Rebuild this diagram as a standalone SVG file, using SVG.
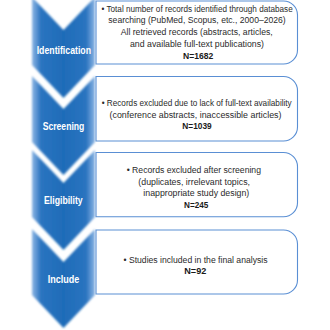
<svg xmlns="http://www.w3.org/2000/svg" width="330" height="330" viewBox="0 0 330 330">
<defs>
<linearGradient id="chevGrad" x1="0" y1="0" x2="1" y2="0">
<stop offset="0" stop-color="#8db6e4"/>
<stop offset="0.14" stop-color="#2a74c0"/>
<stop offset="0.5" stop-color="#1f6cb8"/>
<stop offset="0.86" stop-color="#2a74c0"/>
<stop offset="1" stop-color="#8db6e4"/>
</linearGradient>
<filter id="soft" x="-10%" y="-10%" width="120%" height="120%">
<feGaussianBlur stdDeviation="1.1"/>
</filter>
</defs>
<style>
.chev{fill:url(#chevGrad);filter:url(#soft);}
.box{fill:#ffffff;stroke:#5a8fd4;stroke-width:1.1;}
.t{font-family:"Liberation Sans",Arial,sans-serif;font-size:9.2px;fill:#2a2a2a;}
.n{font-family:"Liberation Sans",Arial,sans-serif;font-size:9.2px;font-weight:bold;fill:#1a1a1a;}
.lab{font-family:"Liberation Sans",Arial,sans-serif;font-size:10.8px;font-weight:bold;fill:#ffffff;}
</style>
<rect width="330" height="330" fill="#ffffff"/>
<g id="connectors"></g>

<g id="identification">
<path class="box" d="M96,1 H283.5 A14,14 0 0 1 297.5,15 V50 A14,14 0 0 1 283.5,64 H96 Z"/>
<path class="chev" d="M32,-3 L63.5,30 L95,-3 V65 L63.5,98 L32,65 Z"/>
<text class="lab" x="36.7" y="54" textLength="54.3" lengthAdjust="spacingAndGlyphs">Identification</text>
<text class="t" x="101.5" y="11.5" textLength="191.2" lengthAdjust="spacingAndGlyphs">• Total number of records identified through database</text>
<text class="t" x="108.3" y="23.3" textLength="177.4" lengthAdjust="spacingAndGlyphs">searching (PubMed, Scopus, etc., 2000–2026)</text>
<text class="t" x="120.7" y="35.2" textLength="152" lengthAdjust="spacingAndGlyphs">All retrieved records (abstracts, articles,</text>
<text class="t" x="130" y="47" textLength="134" lengthAdjust="spacingAndGlyphs">and available full-text publications)</text>
<text class="n" x="183" y="58.8" textLength="30.3" lengthAdjust="spacingAndGlyphs">N=1682</text>
</g>

<g id="screening">
<path class="box" d="M96,76.5 H283.5 A14,14 0 0 1 297.5,90.5 V127 A14,14 0 0 1 283.5,141 H96 Z"/>
<path class="chev" d="M32,76 L63.5,109 L95,76 V142 L63.5,175 L32,142 Z"/>
<text class="lab" x="42.7" y="129.5" textLength="41.6" lengthAdjust="spacingAndGlyphs">Screening</text>
<text class="t" x="101.7" y="106.2" textLength="190" lengthAdjust="spacingAndGlyphs">• Records excluded due to lack of full-text availability</text>
<text class="t" x="109.5" y="117.6" textLength="172" lengthAdjust="spacingAndGlyphs">(conference abstracts, inaccessible articles)</text>
<text class="n" x="182.3" y="129" textLength="29.4" lengthAdjust="spacingAndGlyphs">N=1039</text>
</g>

<g id="eligibility">
<path class="box" d="M96,152.5 H283.5 A14,14 0 0 1 297.5,166.5 V202.8 A14,14 0 0 1 283.5,216.8 H96 Z"/>
<path class="chev" d="M32,150 L63.5,183 L95,150 V217 L63.5,250 L32,217 Z"/>
<text class="lab" x="44" y="204" textLength="38.7" lengthAdjust="spacingAndGlyphs">Eligibility</text>
<text class="t" x="126.7" y="173" textLength="134.3" lengthAdjust="spacingAndGlyphs">• Records excluded after screening</text>
<text class="t" x="138.3" y="184.5" textLength="111.7" lengthAdjust="spacingAndGlyphs">(duplicates, irrelevant topics,</text>
<text class="t" x="143.3" y="196" textLength="106" lengthAdjust="spacingAndGlyphs">inappropriate study design)</text>
<text class="n" x="184" y="207.5" textLength="24.3" lengthAdjust="spacingAndGlyphs">N=245</text>
</g>

<g id="include">
<path class="box" d="M96,230 H283.5 A14,14 0 0 1 297.5,244 V280 A14,14 0 0 1 283.5,294 H96 Z"/>
<path class="chev" d="M32,229 L63.5,262 L95,229 V295 L63.5,328 L32,295 Z"/>
<text class="lab" x="47.7" y="283" textLength="31.6" lengthAdjust="spacingAndGlyphs">Include</text>
<text class="t" x="123.5" y="262.5" textLength="144" lengthAdjust="spacingAndGlyphs">• Studies included in the final analysis</text>
<text class="n" x="184.3" y="274" textLength="22" lengthAdjust="spacingAndGlyphs">N=92</text>
</g>
</svg>
